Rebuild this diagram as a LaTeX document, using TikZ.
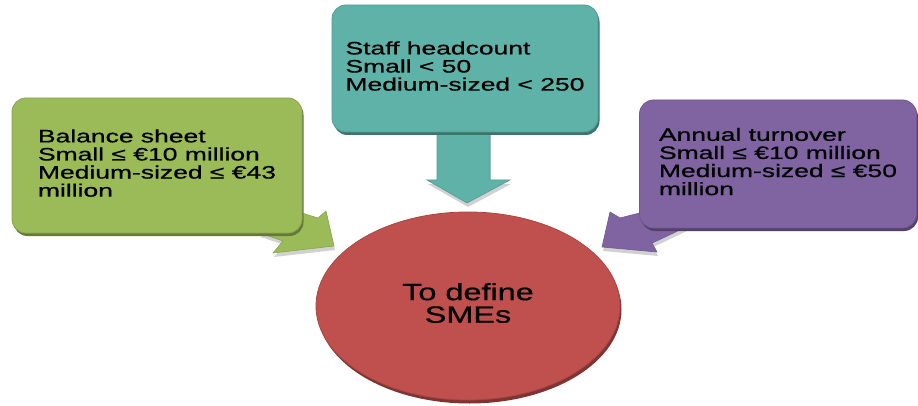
\documentclass[tikz,border=0pt]{standalone}
\usepackage{fontspec}
\setmainfont{Liberation Sans}[FakeBold=0.6]
\usetikzlibrary{shapes.geometric,shadows}
\definecolor{cgreen}{RGB}{155,187,89}
\definecolor{cteal}{RGB}{95,178,168}
\definecolor{cpurple}{RGB}{128,100,162}
\definecolor{cred}{RGB}{192,80,77}
\begin{document}
\begin{tikzpicture}[x=1pt,y=-1pt,
  box/.style={rectangle, rounded corners=14pt, inner sep=0pt, draw=#1!88!black, line width=0.8pt, fill=#1,
    drop shadow={shadow xshift=1.5pt, shadow yshift=-3pt, fill=#1!65!black, opacity=1},
    font=\fontsize{18}{16.8}\selectfont, align=left},
  disc/.style={ellipse, inner sep=0pt, fill=cred, draw=cred!88!black, line width=0.8pt,
    drop shadow={shadow xshift=1.5pt, shadow yshift=-3.5pt, fill=cred!65!black, opacity=1},
    font=\fontsize{23.5}{20.5}\selectfont, align=center},
  blockarrow/.style={fill=#1, draw=#1!88!black, line width=0.6pt},
  arrowshadow/.style={fill=black!18}
]
\fill[white] (0,0) rectangle (918,406);
\useasboundingbox (0,0) rectangle (918,406);

% block arrows (behind the boxes)
\begin{scope}[shift={(1,4)}]
  \fill[arrowshadow] (260,200) -- (318,218) -- (326,211) -- (334,246) -- (273,253) -- (283,241) -- (260,233) -- cycle;
  \fill[arrowshadow] (437,120) -- (437,180) -- (427,180) -- (467,203) -- (510,180) -- (490,180) -- (490,120) -- cycle;
  \fill[arrowshadow] (602,247) -- (610,212) -- (620,218) -- (690,200) -- (690,225) -- (663,238) -- (652,243) -- (657,252) -- cycle;
\end{scope}
\path[blockarrow=cgreen] (260,200) -- (318,218) -- (326,211) -- (334,246) -- (273,253) -- (283,241) -- (260,233) -- cycle;
\path[blockarrow=cteal] (437,120) -- (437,180) -- (427,180) -- (467,203) -- (510,180) -- (490,180) -- (490,120) -- cycle;
\path[blockarrow=cpurple] (602,247) -- (610,212) -- (620,218) -- (690,200) -- (690,225) -- (663,238) -- (652,243) -- (657,252) -- cycle;

% boxes
\node[box=cgreen, minimum width=290pt, minimum height=135pt] (bal) at (157,165.5)
  {\scalebox{1.47}[1]{\begin{tabular}{@{}l@{}}Balance sheet\\Small ≤ €10 million\\Medium-sized ≤ €43\\million\end{tabular}}};
\node[box=cteal, minimum width=266pt, minimum height=127pt] (staff) at (465,68.5)
  {\scalebox{1.47}[1]{\begin{tabular}{@{}l@{}}Staff headcount\\Small < 50\\Medium-sized < 250\end{tabular}}};
\node[box=cpurple, minimum width=277pt, minimum height=128pt] (turn) at (778,164)
  {\scalebox{1.47}[1]{\begin{tabular}{@{}l@{}}Annual turnover\\Small ≤ €10 million\\Medium-sized ≤ €50\\million\end{tabular}}};

% central disc
\node[disc, minimum width=304pt, minimum height=188pt] (sme) at (468,306)
  {\scalebox{1.38}[1]{\begin{tabular}{@{}c@{}}To define\\SMEs\end{tabular}}};
\end{tikzpicture}
\end{document}
